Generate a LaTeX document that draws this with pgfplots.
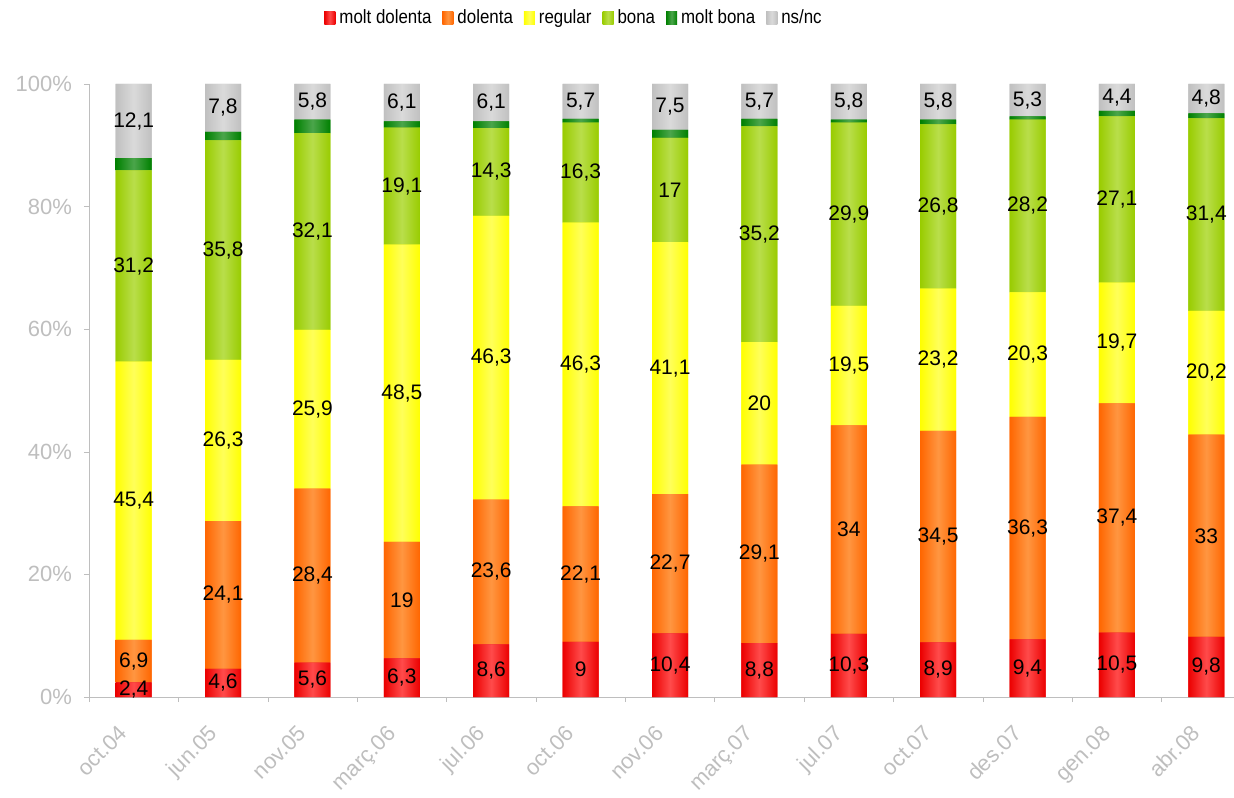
\documentclass[border=0pt]{standalone}
\usepackage{pgfplots}
\pgfplotsset{compat=1.18}
\usepackage{pgfplotstable}
\usepackage{fontspec}
\setmainfont{Liberation Sans}
\newfontfamily\legfont[FakeStretch=0.88]{Liberation Sans}

\definecolor{axgray}{RGB}{190,190,190}
\definecolor{mdE}{RGB}{235,0,0}
\definecolor{mdM}{RGB}{255,75,75}
\definecolor{dE}{RGB}{255,102,0}
\definecolor{dM}{RGB}{255,150,65}
\definecolor{rE}{RGB}{255,255,0}
\definecolor{rM}{RGB}{255,255,90}
\definecolor{bE}{RGB}{153,204,0}
\definecolor{bM}{RGB}{185,222,75}
\definecolor{mbE}{RGB}{0,128,0}
\definecolor{mbM}{RGB}{75,165,75}
\definecolor{nE}{RGB}{192,192,192}
\definecolor{nM}{RGB}{218,218,218}

% one light stripe in the middle of each of the 13 bars
% (a series is filled as one path, its bbox = 25bp..75bp of the shading)
\makeatletter
\def\barspec{color(0bp)=(tikz@axis@top)}
\foreach \i in {0,...,12}{%
  \pgfmathsetmacro\La{25+4.03137*\i}%
  \pgfmathsetmacro\Mi{\La+0.81184}%
  \pgfmathsetmacro\Ri{\La+1.62367}%
  \xdef\barspec{\barspec; color(\La bp)=(tikz@axis@top); color(\Mi bp)=(tikz@axis@middle); color(\Ri bp)=(tikz@axis@top)}%
}
\xdef\barspec{\barspec; color(100bp)=(tikz@axis@top)}
\edef\tmp{\noexpand\pgfdeclarehorizontalshading[tikz@axis@top,tikz@axis@middle]{bars}{100bp}{\barspec}}
\tmp
\makeatother

% oct.04 ... abr.08 ; mb = what is left to 100
\pgfplotstableread{
x   md   d    r    b    mb   ns
0   2.4  6.9  45.4 31.2 2.0  12.1
1   4.6  24.1 26.3 35.8 1.4  7.8
2   5.6  28.4 25.9 32.1 2.2  5.8
3   6.3  19   48.5 19.1 1.0  6.1
4   8.6  23.6 46.3 14.3 1.1  6.1
5   9    22.1 46.3 16.3 0.6  5.7
6   10.4 22.7 41.1 17   1.3  7.5
7   8.8  29.1 20   35.2 1.2  5.7
8   10.3 34   19.5 29.9 0.5  5.8
9   8.9  34.5 23.2 26.8 0.8  5.8
10  9.4  36.3 20.3 28.2 0.5  5.3
11  10.5 37.4 19.7 27.1 0.9  4.4
12  9.8  33   20.2 31.4 0.8  4.8
}\data

\pgfplotsset{
  sh/.style n args={2}{fill=#1, draw=none, left color=#1, right color=#1,
    middle color=#2, shading=bars, shading angle=0},
  lab/.style={
    nodes near coords={\pgfmathprintnumber{\pgfplotspointmeta}},
    point meta=rawy,
    every node near coord/.append style={anchor=center, text=black,
      font=\fontsize{10.5}{12}\selectfont},
  },
}

\begin{document}
\begin{tikzpicture}
\useasboundingbox (-44.5pt,-50pt) rectangle (572.5pt,348.5pt);
\begin{axis}[
  scale only axis,
  width=572.5pt, height=306.5pt,
  ybar stacked, bar width=18pt,
  xmin=-0.5, xmax=12.31,
  ymin=0, ymax=100,
  axis lines*=left,
  axis line style={axgray},
  xtick={0,...,12},
  xticklabels={oct.04,jun.05,nov.05,març.06,jul.06,oct.06,nov.06,març.07,jul.07,oct.07,des.07,gen.08,abr.08},
  major x tick style={draw=none},
  minor xtick={-0.5,0.5,...,11.5},
  minor tick length=2.5pt,
  minor x tick style={axgray},
  ytick={0,20,...,100},
  yticklabel={\pgfmathprintnumber{\tick}\%},
  major tick length=2.5pt,
  tick align=outside,
  y tick style={axgray},
  /pgf/number format/assume math mode=true,
  /pgf/number format/use comma,
  /pgf/number format/fixed,
  /pgf/number format/precision=1,
  yticklabel style={text=axgray, font=\fontsize{11}{13}\selectfont, xshift=-2.5pt},
  xticklabel style={text=axgray, font=\fontsize{11}{13}\selectfont,
    xshift=-8pt, yshift=-6pt, rotate=45, anchor=north east},
  every axis plot post/.append style={
    legend image code/.code={\path[##1, shading=axis, shading angle=90] (0pt,-3.25pt) rectangle (5.5pt,3.25pt);}},
  legend style={at={(0.4245,1.1077)}, anchor=center, draw=none,
    font=\legfont\fontsize{9.6}{11}\selectfont, legend columns=-1,
    /tikz/every even column/.append style={column sep=3.5pt}},
]
\addplot[sh={mdE}{mdM}, lab] table[x=x, y=md] {\data};
\addplot[sh={dE}{dM}, lab] table[x=x, y=d] {\data};
\addplot[sh={rE}{rM}, lab] table[x=x, y=r] {\data};
\addplot[sh={bE}{bM}, lab] table[x=x, y=b] {\data};
\addplot[sh={mbE}{mbM}] table[x=x, y=mb] {\data};
\addplot[sh={nE}{nM}, lab] table[x=x, y=ns] {\data};
\legend{molt dolenta, dolenta, regular, bona, molt bona, ns/nc}
\end{axis}
\end{tikzpicture}
\end{document}
